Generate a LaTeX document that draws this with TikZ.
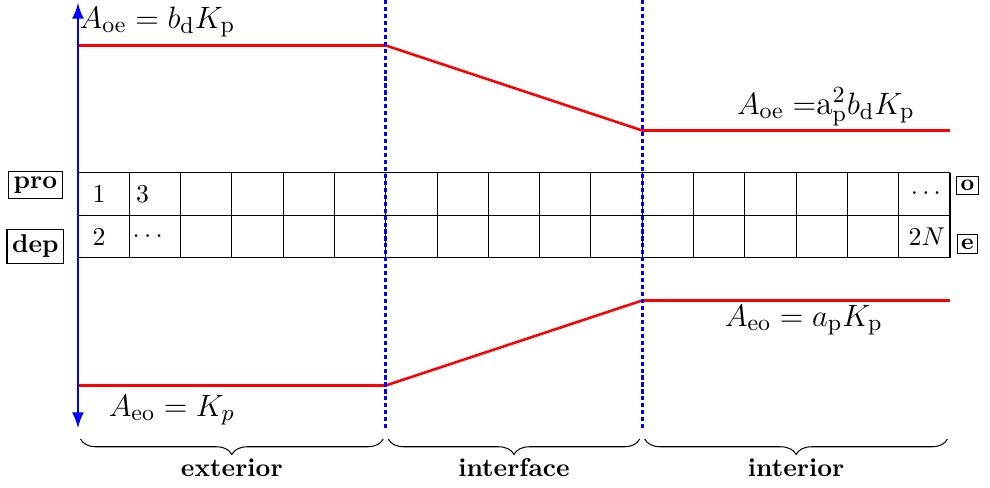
\documentclass[tikz,border=0pt]{standalone}
\usetikzlibrary{decorations.pathreplacing}
\begin{document}
\begin{tikzpicture}
  [x=0.7cm,y=0.58cm,
   tag/.style={draw,inner sep=2pt,font=\bfseries},
   side/.style={draw,inner sep=1.5pt,font=\small\bfseries},
   bnd/.style={blue,line width=1pt,dash pattern=on 1.6pt off 1.1pt},
   prof/.style={red,line width=1pt},
   amp/.style={font=\fontsize{12.9}{15}\selectfont},
   zone/.style={decorate,decoration={brace,mirror,amplitude=6pt}}]
\useasboundingbox (-1.52,-5.39) rectangle (17.78,6.07);
  \foreach \y in {0,1,2}
    \draw (0,\y) -- (17,\y);
  \foreach \x in {0,...,17}
    \draw (\x,0) -- (\x,2);

  \node[tag] (pro) at (-0.83,1.71) {pro};
  \node[tag] (dep) at (-0.83,0.27) {dep};
  \node[side] (o) at (17.34,1.71) {o};
  \node[side] (e) at (17.34,0.33) {e};

  \node (c1) at (0.41,1.5) {$1$};
  \node (c3) at (1.26,1.5) {$3$};
  \node (c2) at (0.41,0.5) {$2$};
  \node (cd) at (1.36,0.5) {$\cdots$};
  \node (ce) at (16.53,1.5) {$\cdots$};
  \node (cn) at (16.55,0.5) {$2N$};

  \coordinate (t0) at (0,5);
  \coordinate (t1) at (6,5);
  \coordinate (t2) at (11,3);
  \coordinate (t3) at (17,3);
  \coordinate (b0) at (0,-3);
  \coordinate (b1) at (6,-3);
  \coordinate (b2) at (11,-1);
  \coordinate (b3) at (17,-1);
  \draw[prof] (t0) -- (t1) -- (t2) -- (t3);
  \draw[prof] (b0) -- (b1) -- (b2) -- (b3);

  \foreach \x/\n in {6/a, 11/b}
  {
    \coordinate (up\n) at (\x,6.07);
    \coordinate (lo\n) at (\x,-4.05);
    \draw[bnd] (up\n) -- (lo\n);
  }

  \coordinate (ytop) at (0,6.0);
  \coordinate (ybot) at (0,-4.0);
  \draw[blue,line width=1.1pt,latex-latex] (ybot) -- (ytop);

  \node[amp] (aoe1) at (1.55,5.55) {$A_\mathrm{oe}=b_\mathrm{d}K_\mathrm{p}$};
  \node[amp] (aoe2) at (14.58,3.55) {$A_\mathrm{oe} =$a$_\mathrm{p}^2b_\mathrm{d}K_\mathrm{p}$};
  \node[amp] (aeo2) at (14.15,-1.46) {$A_\mathrm{eo}=a_\mathrm{p}K_\mathrm{p}$};
  \node[amp] (aeo1) at (1.83,-3.58) {$A_\mathrm{eo}=K_p$};

  \foreach \a/\b/\n in {0.05/5.95/z1, 6.05/10.95/z2, 11.05/16.95/z3}
  {
    \coordinate (\n l) at (\a,-4.26);
    \coordinate (\n r) at (\b,-4.26);
    \draw[zone] (\n l) -- (\n r);
  }
  \node (ext) at (3,-4.94) {\textbf{exterior}};
  \node (itf) at (8.5,-4.94) {\textbf{interface}};
  \node (int) at (14,-4.94) {\textbf{interior}};
\end{tikzpicture}
\end{document}
